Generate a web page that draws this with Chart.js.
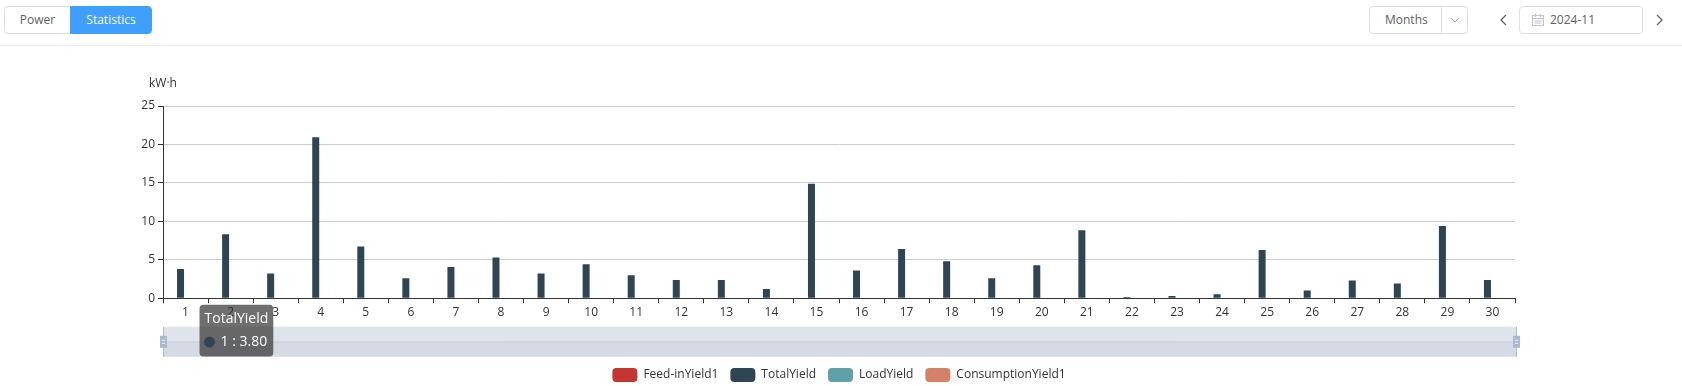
<!DOCTYPE html>
<html lang="en">
<head>
  <meta charset="UTF-8" />
  <title>Statistics</title>
  <style>
    html, body {
      margin: 0;
      padding: 0;
      width: 1682px;
      height: 386px;
      overflow: hidden;
      background: #fff;
      font-family: "Open Sans", sans-serif;
      color: #606266;
    }
    #toolbar {
      position: absolute;
      left: 0;
      top: 0;
      width: 1682px;
      height: 45px;
      border-bottom: 1px solid #ebeef5;
    }
    .btn {
      position: absolute;
      top: 6px;
      height: 28px;
      line-height: 26px;
      box-sizing: border-box;
      font-size: 12px;
      text-align: center;
      border: 1px solid #dcdfe6;
    }
    #powerBtn { left: 4px; width: 67px; border-radius: 4px 0 0 4px; color: #606266; }
    #statsBtn { left: 70px; width: 82px; border-radius: 0 4px 4px 0; background: #409eff; border-color: #409eff; color: #fff; }
    #months { left: 1369px; width: 99px; border-radius: 4px; text-align: left; }
    #months .label { position: absolute; left: 15px; }
    #months .sep { position: absolute; left: 71px; top: 0; height: 26px; border-left: 1px solid #dcdfe6; }
    #months svg { position: absolute; left: 80px; top: 10px; }
    #dateBox { left: 1519px; width: 124px; border-radius: 4px; text-align: left; }
    #dateBox svg { position: absolute; left: 12px; top: 7px; }
    #dateBox .label { position: absolute; left: 30px; }
    .arrow { position: absolute; top: 14px; }
    #chart { position: absolute; left: 0; top: 46px; }
  </style>
</head>
<body>

<div id="toolbar">
  <div class="btn" id="powerBtn">Power</div>
  <div class="btn" id="statsBtn">Statistics</div>
  <div class="btn" id="months">
    <span class="label">Months</span>
    <span class="sep"></span>
    <svg width="10" height="6" viewBox="0 0 10 6"><polyline points="1,1 5,5 9,1" fill="none" stroke="#a8abb2" stroke-width="1"/></svg>
  </div>
  <svg class="arrow" style="left:1499px" width="8" height="12" viewBox="0 0 8 12"><polyline points="7,1 2,6 7,11" fill="none" stroke="#606266" stroke-width="1.3"/></svg>
  <div class="btn" id="dateBox">
    <svg width="12" height="12" viewBox="0 0 12 12">
      <rect x="0.5" y="1.5" width="11" height="10" fill="none" stroke="#c0c4cc" stroke-width="1"/>
      <line x1="0.5" y1="4.5" x2="11.5" y2="4.5" stroke="#c0c4cc" stroke-width="1"/>
      <line x1="3.5" y1="0" x2="3.5" y2="3" stroke="#c0c4cc" stroke-width="1"/>
      <line x1="8.5" y1="0" x2="8.5" y2="3" stroke="#c0c4cc" stroke-width="1"/>
      <line x1="2.5" y1="7" x2="9.5" y2="7" stroke="#c0c4cc" stroke-width="1"/>
      <line x1="2.5" y1="9" x2="9.5" y2="9" stroke="#c0c4cc" stroke-width="1"/>
    </svg>
    <span class="label">2024-11</span>
  </div>
  <svg class="arrow" style="left:1656px" width="8" height="12" viewBox="0 0 8 12"><polyline points="1,1 6,6 1,11" fill="none" stroke="#606266" stroke-width="1.3"/></svg>
</div>

<canvas id="chart" width="1682" height="346"></canvas>

<script src="https://cdn.jsdelivr.net/npm/chart.js"></script>
<script>
  const days = ['1', '2', '3', '4', '5', '6', '7', '8', '9', '10',
                '11', '12', '13', '14', '15', '16', '17', '18', '19', '20',
                '21', '22', '23', '24', '25', '26', '27', '28', '29', '30'];

  // only TotalYield has data this month
  const feedInYield = [];
  const totalYield = [3.80, 8.32, 3.21, 20.93, 6.72, 2.60, 4.07, 5.29, 3.21, 4.42,
                      2.99, 2.38, 2.38, 1.21, 14.90, 3.60, 6.41, 4.81, 2.60, 4.29,
                      8.84, 0.17, 0.30, 0.52, 6.28, 1.00, 2.30, 1.91, 9.40, 2.38];
  const loadYield = [];
  const consumptionYield = [];

  const yTicks = [0, 5, 10, 15, 20, 25];
  const unitLabel = 'kW·h';

  const FONT = '"Open Sans", sans-serif';
  const TEXT = '#333';

  // tooltip sits next to the cursor, just under the axis
  Chart.Tooltip.positioners.nearCursor = function (items) {
    if (!items.length) return false;
    const el = items[0].element;
    return { x: el.x + 23, y: this.chart.chartArea.bottom + 6.5 };
  };

  // unit name above the y axis + the dataZoom slider strip
  const extras = {
    id: 'extras',
    afterDatasetsDraw(chart) {
      const { ctx, chartArea: a } = chart;
      ctx.save();

      ctx.fillStyle = TEXT;
      ctx.font = '12px ' + FONT;
      ctx.textAlign = 'center';
      ctx.textBaseline = 'middle';
      ctx.fillText(unitLabel, a.left, a.top - 22);

      const top = a.bottom + 28.5;
      const h = 30;
      const left = a.left + 0.5;
      const right = a.right + 1.5;
      ctx.fillStyle = '#dee3ec';
      ctx.fillRect(left, top, right - left, h / 2);
      ctx.fillStyle = '#d4dbe5';
      ctx.fillRect(left, top + h / 2, right - left, h / 2);
      ctx.strokeStyle = '#c6cfdb';
      ctx.lineWidth = 1;
      ctx.beginPath();
      ctx.moveTo(left, top + h / 2);
      ctx.lineTo(right, top + h / 2);
      ctx.stroke();

      ctx.strokeStyle = '#acbbd0';
      [left, right].forEach(x => {
        ctx.beginPath();
        ctx.moveTo(x, top);
        ctx.lineTo(x, top + h);
        ctx.stroke();
        ctx.fillStyle = '#a9b9cf';
        ctx.fillRect(x - 3.5, top + 9, 7, 12);
        ctx.strokeStyle = '#eef1f6';
        ctx.beginPath();
        ctx.moveTo(x - 1.5, top + 13.5); ctx.lineTo(x + 1.5, top + 13.5);
        ctx.moveTo(x - 1.5, top + 16.5); ctx.lineTo(x + 1.5, top + 16.5);
        ctx.stroke();
        ctx.strokeStyle = '#acbbd0';
      });

      ctx.restore();
    }
  };

  const chart = new Chart(document.getElementById('chart'), {
    type: 'bar',
    data: {
      labels: days,
      datasets: [
        { label: 'Feed-inYield1', data: feedInYield, backgroundColor: '#c23531' },
        { label: 'TotalYield', data: totalYield, backgroundColor: '#2f4554' },
        { label: 'LoadYield', data: loadYield, backgroundColor: '#61a0a8' },
        { label: 'ConsumptionYield1', data: consumptionYield, backgroundColor: '#d48265' }
      ]
    },
    options: {
      responsive: false,
      animation: false,
      events: [],
      layout: { padding: { top: 60, right: 167, left: 0, bottom: 0 } },
      datasets: {
        bar: { categoryPercentage: 0.888, barPercentage: 0.7, borderWidth: 0 }
      },
      scales: {
        x: {
          offset: true,
          grid: { offset: true, drawOnChartArea: false, tickLength: 5, tickColor: TEXT },
          border: { color: TEXT },
          ticks: { color: TEXT, padding: 2, maxRotation: 0, autoSkip: false, font: { size: 12, family: FONT } },
          afterFit: s => { s.height = 57.7; }
        },
        y: {
          min: 0,
          max: 25,
          afterBuildTicks: s => { s.ticks = yTicks.map(v => ({ value: v })); },
          grid: {
            color: c => (c.tick && c.tick.value === 0 ? TEXT : '#ccc'),
            tickLength: 5,
            tickColor: TEXT
          },
          border: { color: TEXT },
          ticks: { color: TEXT, padding: 3, font: { size: 12, family: FONT } },
          afterFit: s => { s.width = 163; }
        }
      },
      plugins: {
        legend: {
          position: 'bottom',
          fullSize: false,
          labels: {
            boxWidth: 25,
            boxHeight: 14,
            useBorderRadius: true,
            borderRadius: 4,
            padding: 12,
            color: TEXT,
            font: { size: 12, family: FONT }
          }
        },
        tooltip: {
          position: 'nearCursor',
          xAlign: 'left',
          yAlign: 'top',
          caretSize: 0,
          caretPadding: 0,
          cornerRadius: 4,
          backgroundColor: 'rgba(50,50,50,0.7)',
          titleColor: '#fff',
          bodyColor: '#fff',
          titleFont: { size: 14, family: FONT, weight: 'normal' },
          bodyFont: { size: 14, family: FONT },
          padding: { top: 6, bottom: 6, left: 5, right: 5 },
          titleMarginBottom: 6,
          displayColors: true,
          usePointStyle: true,
          boxWidth: 10,
          boxHeight: 10,
          boxPadding: 4,
          multiKeyBackground: 'rgba(0,0,0,0)',
          callbacks: {
            title: items => items[0].dataset.label,
            label: item => item.label + ' : ' + item.raw.toFixed(2),
            labelColor: item => ({ backgroundColor: item.dataset.backgroundColor, borderColor: item.dataset.backgroundColor }),
            labelPointStyle: () => ({ pointStyle: 'circle', rotation: 0 })
          }
        }
      }
    },
    plugins: [extras]
  });

  chart.tooltip.setActiveElements([{ datasetIndex: 1, index: 0 }], { x: 0, y: 0 });
  chart.update();
</script>

</body>
</html>
